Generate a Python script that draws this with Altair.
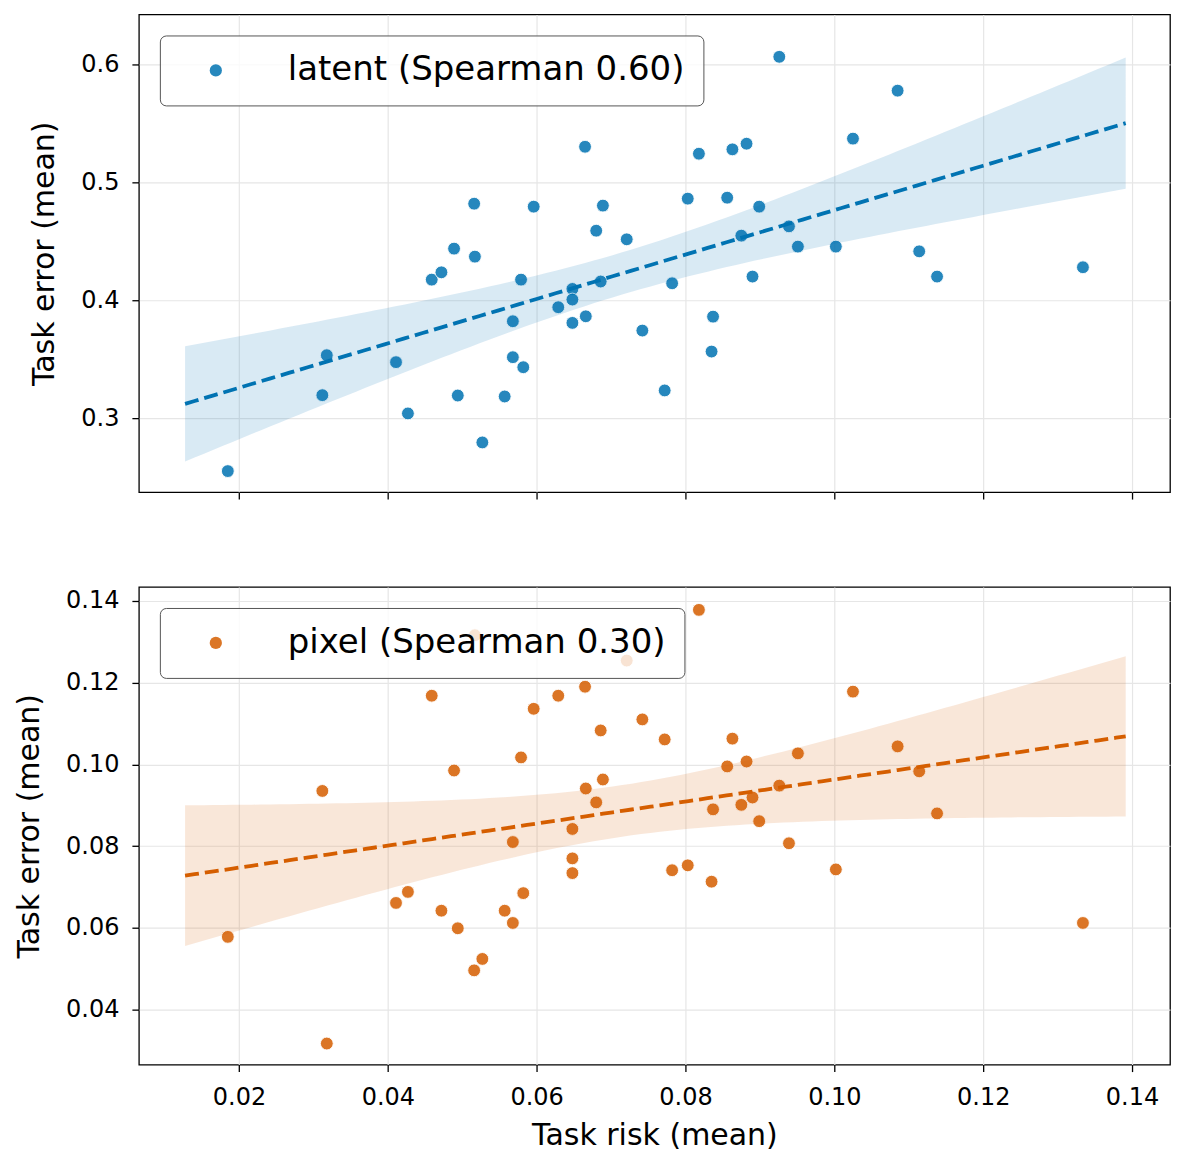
import altair as alt
import numpy as np
import pandas as pd

# ---- data ----
task_risk = [0.0185, 0.0312, 0.0318, 0.0411, 0.0427, 0.0459, 0.0472, 0.0489, 0.0494, 0.0516,
             0.0517, 0.0527, 0.0557, 0.0568, 0.0568, 0.0579, 0.0582, 0.0596, 0.0629, 0.0648,
             0.0648, 0.0648, 0.0665, 0.0666, 0.0680, 0.0686, 0.0689, 0.0721, 0.0742, 0.0772,
             0.0782, 0.0803, 0.0818, 0.0837, 0.0835, 0.0856, 0.0863, 0.0875, 0.0882, 0.0890,
             0.0899, 0.0926, 0.0939, 0.0951, 0.1002, 0.1025, 0.1085, 0.1114, 0.1138, 0.1334]

latent_error = [0.2551, 0.3195, 0.3534, 0.3475, 0.3040, 0.4175, 0.4237, 0.4438, 0.3192, 0.4819,
                0.4370, 0.2794, 0.3184, 0.3822, 0.3517, 0.4175, 0.3432, 0.4794, 0.3941, 0.4096,
                0.4006, 0.3808, 0.5302, 0.3864, 0.4590, 0.4159, 0.4803, 0.4517, 0.3743, 0.3235,
                0.4144, 0.4862, 0.5243, 0.3861, 0.3565, 0.4870, 0.5280, 0.4548, 0.5328, 0.4201,
                0.4794, 0.6065, 0.4627, 0.4455, 0.4455, 0.5371, 0.5778, 0.4415, 0.4201, 0.4280]

pixel_error = [0.0578, 0.0935, 0.0317, 0.0661, 0.0688, 0.1168, 0.0642, 0.0985, 0.0599, 0.0496,
               0.1316, 0.0524, 0.0642, 0.0810, 0.0612, 0.1017, 0.0685, 0.1136, 0.1168, 0.0842,
               0.0770, 0.0734, 0.1190, 0.0941, 0.0907, 0.1083, 0.0963, 0.1254, 0.1110, 0.1061,
               0.0741, 0.0753, 0.1378, 0.0890, 0.0713, 0.0995, 0.1063, 0.0901, 0.1007, 0.0919,
               0.0861, 0.0948, 0.0807, 0.1027, 0.0743, 0.1178, 0.1044, 0.0983, 0.0880, 0.0612]

series_labels = ["latent (Spearman 0.60)", "pixel (Spearman 0.30)"]
point_colors = ["#0173b2", "#d55e00"]
x_ticks = [0.02, 0.04, 0.06, 0.08, 0.10, 0.12, 0.14]
latent_ticks = [0.3, 0.4, 0.5, 0.6]
pixel_ticks = [0.04, 0.06, 0.08, 0.10, 0.12, 0.14]

X_DOMAIN = [0.00655, 0.1451]
LATENT_DOMAIN = [0.2373, 0.6424]
PIXEL_DOMAIN = [0.02655, 0.1434]


def fit_band(x, y, n_grid=100, t_crit=2.011):
    """OLS fit with a 95% confidence band of the mean, as in a regression plot."""
    x = np.asarray(x, float)
    y = np.asarray(y, float)
    n = len(x)
    b1, b0 = np.polyfit(x, y, 1)
    resid = y - (b0 + b1 * x)
    s = np.sqrt(np.sum(resid ** 2) / (n - 2))
    xbar = x.mean()
    sxx = np.sum((x - xbar) ** 2)
    span = x.max() - x.min()
    grid = np.linspace(x.min() - 0.05 * span, x.max() + 0.05 * span, n_grid)
    yhat = b0 + b1 * grid
    half = t_crit * s * np.sqrt(1.0 / n + (grid - xbar) ** 2 / sxx)
    return pd.DataFrame({"x": grid, "yhat": yhat, "lo": yhat - half, "hi": yhat + half})


def panel(y_values, label, color, y_domain, y_ticks, show_x_labels):
    pts = pd.DataFrame({"x": task_risk, "y": y_values, "series": label})
    band = fit_band(task_risk, y_values)

    if show_x_labels:
        x_axis = alt.Axis(values=x_ticks, format=".2f", title="Task risk (mean)")
    else:
        x_axis = alt.Axis(values=x_ticks, labels=False, title=None)

    xs = alt.Scale(domain=X_DOMAIN, nice=False, zero=False)
    ys = alt.Scale(domain=y_domain, nice=False, zero=False)
    fmt = ".1f" if y_ticks[0] >= 0.2 else ".2f"
    y_axis = alt.Axis(values=y_ticks, format=fmt, title="Task error (mean)")

    points = alt.Chart(pts).mark_circle(
        size=165, opacity=0.85, stroke="white", strokeWidth=0.9
    ).encode(
        x=alt.X("x:Q", scale=xs, axis=x_axis),
        y=alt.Y("y:Q", scale=ys, axis=y_axis),
        color=alt.Color(
            "series:N",
            scale=alt.Scale(domain=[label], range=[color]),
            legend=alt.Legend(
                title=None, orient="top-left", offset=21, padding=18,
                labelFontSize=34, labelFont="DejaVu Sans", labelColor="black",
                labelLimit=0,
                symbolSize=150, symbolType="circle", symbolOffset=21, labelOffset=55,
                strokeColor="#555555", fillColor="rgba(255,255,255,0.8)",
                cornerRadius=6, symbolStrokeWidth=0,
            ),
        ),
    )

    area = alt.Chart(band).mark_area(color=color, opacity=0.15).encode(
        x=alt.X("x:Q", scale=xs),
        y=alt.Y("lo:Q", scale=ys),
        y2="hi:Q",
    )

    line = alt.Chart(band).mark_line(
        color=color, strokeWidth=3.8, strokeDash=[14, 6]
    ).encode(
        x=alt.X("x:Q", scale=xs),
        y=alt.Y("yhat:Q", scale=ys),
    )

    return alt.layer(points, area, line).properties(width=1032, height=478)


top = panel(latent_error, series_labels[0], point_colors[0], LATENT_DOMAIN, latent_ticks, False)
bottom = panel(pixel_error, series_labels[1], point_colors[1], PIXEL_DOMAIN, pixel_ticks, True)

chart = alt.vconcat(top, bottom, spacing=85).resolve_scale(
    color="independent"
).resolve_legend(
    color="independent"
).configure(
    font="DejaVu Sans"
).configure_view(
    stroke="black", strokeWidth=1.3
).configure_axis(
    labelFontSize=24, titleFontSize=30, titleFontWeight="normal",
    labelColor="black", titleColor="black",
    domain=False, tickColor="black", tickSize=7, tickWidth=1.3,
    grid=True, gridColor="#e6e6e6", gridWidth=1.2,
).configure_axisY(
    labelPadding=13, titlePadding=21,
).configure_axisX(
    labelPadding=14, titlePadding=11,
)

chart.save("out.html", embed_options={"renderer": "svg", "actions": False})
